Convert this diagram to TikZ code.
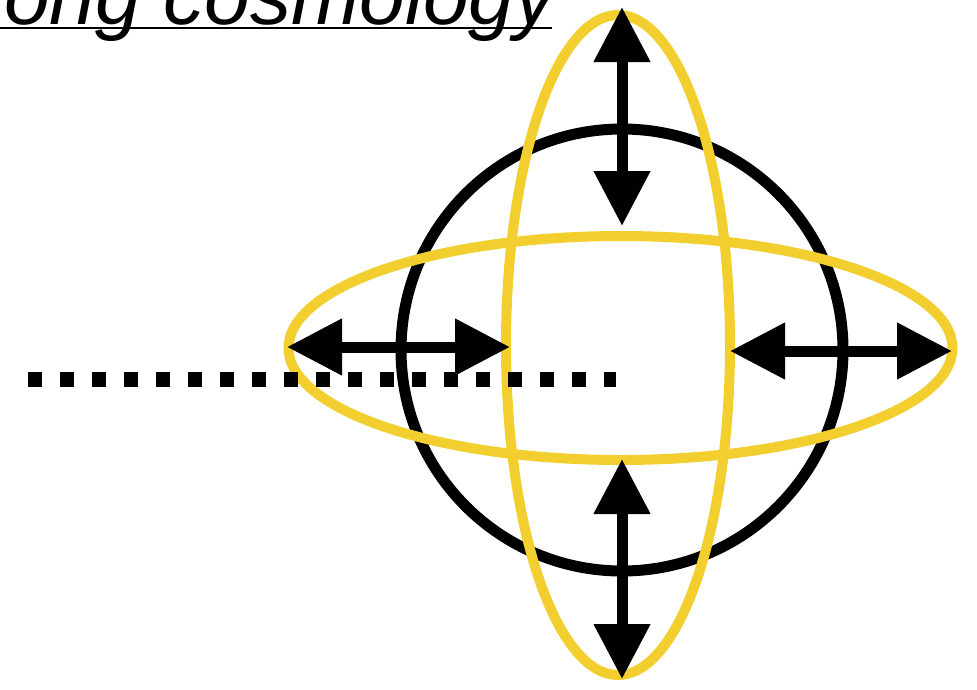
\documentclass[tikz,border=0pt]{standalone}
\usepackage{fontspec}
\setmainfont{Liberation Sans}
\usetikzlibrary{arrows.meta}
\definecolor{chalkyellow}{RGB}{242,206,46}
\tikzset{
  yellowring/.style={draw=chalkyellow, line width=10pt},
  blackring/.style={draw=black, line width=11pt},
  bigarrow/.style={line width=11pt, {Triangle[length=55pt,width=54pt]}-{Triangle[length=55pt,width=54pt]}},
  squaredots/.style={line width=15pt, dash pattern=on 14pt off 18pt},
  titletext/.style={anchor=base west, inner sep=0pt, font=\fontsize{82}{98}\selectfont\itshape}
}
\begin{document}
\begin{tikzpicture}[x=1pt,y=-1pt]
\useasboundingbox (0,0) rectangle (977,689);
% title
\node[titletext] (title) at (4,24) {ong cosmology};
\coordinate (ulA) at (0,28);
\coordinate (ulB) at (552,28);
\draw[line width=2.5pt] (ulA) -- (ulB);
% dotted line
\coordinate (dotA) at (28,379);
\coordinate (dotB) at (616,379);
% shapes
\draw[blackring] (622,350) circle[radius=221];
\draw[yellowring] (618,345) ellipse[x radius=112, y radius=330];
\draw[yellowring] (620.5,348) ellipse[x radius=332, y radius=112];
\draw[squaredots] (dotA) -- (dotB);
% arrows
\coordinate (tA) at (622,7);
\coordinate (tB) at (622,226);
\coordinate (bA) at (622,459);
\coordinate (bB) at (622,679);
\coordinate (lA) at (287,347);
\coordinate (lB) at (510,347);
\coordinate (rA) at (730,351);
\coordinate (rB) at (952,351);
\draw[bigarrow] (tA) -- (tB);
\draw[bigarrow] (bA) -- (bB);
\draw[bigarrow] (lA) -- (lB);
\draw[bigarrow] (rA) -- (rB);
\end{tikzpicture}
\end{document}
